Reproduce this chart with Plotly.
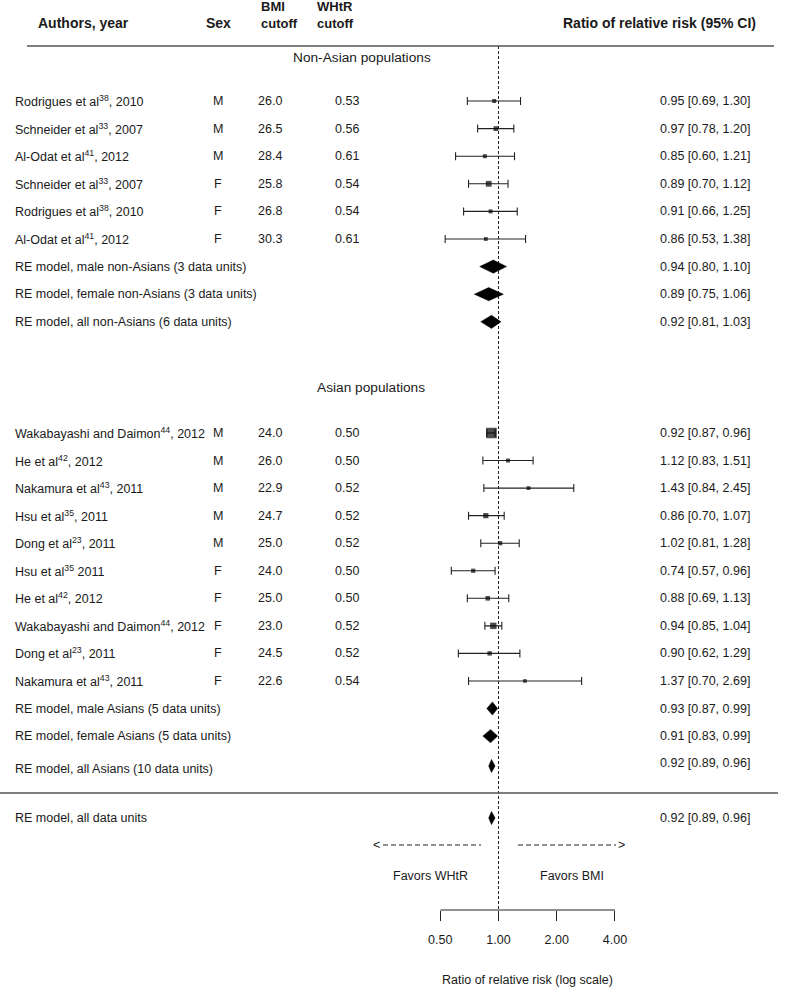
import math
import plotly.graph_objects as go

# ---------------- data ----------------
nonasian_labels = [
    "Rodrigues et al<sup>38</sup>, 2010",
    "Schneider et al<sup>33</sup>, 2007",
    "Al-Odat et al<sup>41</sup>, 2012",
    "Schneider et al<sup>33</sup>, 2007",
    "Rodrigues et al<sup>38</sup>, 2010",
    "Al-Odat et al<sup>41</sup>, 2012",
]
nonasian_sex = ["M", "M", "M", "F", "F", "F"]
nonasian_bmi = ["26.0", "26.5", "28.4", "25.8", "26.8", "30.3"]
nonasian_whtr = ["0.53", "0.56", "0.61", "0.54", "0.54", "0.61"]
nonasian_rr = [0.95, 0.97, 0.85, 0.89, 0.91, 0.86]
nonasian_lo = [0.69, 0.78, 0.60, 0.70, 0.66, 0.53]
nonasian_hi = [1.30, 1.20, 1.21, 1.12, 1.25, 1.38]
nonasian_weight = [4.0, 4.8, 4.0, 5.8, 4.0, 3.8]

asian_labels = [
    "Wakabayashi and Daimon<sup>44</sup>, 2012",
    "He et al<sup>42</sup>, 2012",
    "Nakamura et al<sup>43</sup>, 2011",
    "Hsu et al<sup>35</sup>, 2011",
    "Dong et al<sup>23</sup>, 2011",
    "Hsu et al<sup>35</sup> 2011",
    "He et al<sup>42</sup>, 2012",
    "Wakabayashi and Daimon<sup>44</sup>, 2012",
    "Dong et al<sup>23</sup>, 2011",
    "Nakamura et al<sup>43</sup>, 2011",
]
asian_sex = ["M", "M", "M", "M", "M", "F", "F", "F", "F", "F"]
asian_bmi = ["24.0", "26.0", "22.9", "24.7", "25.0", "24.0", "25.0", "23.0", "24.5", "22.6"]
asian_whtr = ["0.50", "0.50", "0.52", "0.52", "0.52", "0.50", "0.50", "0.52", "0.52", "0.54"]
asian_rr = [0.92, 1.12, 1.43, 0.86, 1.02, 0.74, 0.88, 0.94, 0.90, 1.37]
asian_lo = [0.87, 0.83, 0.84, 0.70, 0.81, 0.57, 0.69, 0.85, 0.62, 0.70]
asian_hi = [0.96, 1.51, 2.45, 1.07, 1.28, 0.96, 1.13, 1.04, 1.29, 2.69]
asian_weight = [10.5, 4.0, 3.8, 5.2, 4.2, 4.2, 4.6, 6.4, 4.4, 3.6]

nonasian_summary_labels = [
    "RE model, male non-Asians (3 data units)",
    "RE model, female non-Asians (3 data units)",
    "RE model, all non-Asians (6 data units)",
]
nonasian_summary_rr = [0.94, 0.89, 0.92]
nonasian_summary_lo = [0.80, 0.75, 0.81]
nonasian_summary_hi = [1.10, 1.06, 1.03]

asian_summary_labels = [
    "RE model, male Asians (5 data units)",
    "RE model, female Asians (5 data units)",
    "RE model, all Asians (10 data units)",
]
asian_summary_rr = [0.93, 0.91, 0.92]
asian_summary_lo = [0.87, 0.83, 0.89]
asian_summary_hi = [0.99, 0.99, 0.96]

overall_label = "RE model, all data units"
overall_rr = 0.92
overall_lo = 0.89
overall_hi = 0.96

tick_values = [0.5, 1, 2, 4]
tick_labels = ["0.50", "1.00", "2.00", "4.00"]

# ---------------- layout helpers ----------------
W, H = 789, 988
PLOT_H = 910          # plot area height in px (y data == px)
FONT = "Arial, Liberation Sans, sans-serif"
TXT = "#1a1a1a"
FS = 12.5
HFS = 14

px_per_decade = 193.4
x_one = 498.5
xr = [-x_one / px_per_decade, (W - x_one) / px_per_decade]


def paper_x(px):
    return px / W


# row positions
na_rows = [101 + 27.6 * i for i in range(9)]
as_rows = [433 + 27.55 * i for i in range(12)]
as_all_row = 766
overall_row = 818

na_study_y = na_rows[:6]
na_sum_y = na_rows[6:9]
as_study_y = as_rows[:10]
as_sum_y = as_rows[10:12] + [as_all_row]

fig = go.Figure()

# reference line at 1
fig.add_trace(go.Scatter(
    x=[1, 1], y=[46, PLOT_H], mode="lines",
    line=dict(color="#222", width=1, dash="3px,2px"),
    hoverinfo="skip", showlegend=False))

# studies
all_rr = nonasian_rr + asian_rr
all_lo = nonasian_lo + asian_lo
all_hi = nonasian_hi + asian_hi
all_w = nonasian_weight + asian_weight
all_y = na_study_y + as_study_y
fig.add_trace(go.Scatter(
    x=all_rr, y=all_y, mode="markers",
    marker=dict(symbol="square", color="black", size=all_w, line=dict(width=0)),
    error_x=dict(type="data", symmetric=False,
                 array=[h - r for h, r in zip(all_hi, all_rr)],
                 arrayminus=[r - l for r, l in zip(all_rr, all_lo)],
                 color="#222", thickness=1.1, width=4),
    hoverinfo="skip", showlegend=False))

# diamonds
sum_rr = nonasian_summary_rr + asian_summary_rr + [overall_rr]
sum_lo = nonasian_summary_lo + asian_summary_lo + [overall_lo]
sum_hi = nonasian_summary_hi + asian_summary_hi + [overall_hi]
sum_y = na_sum_y + as_sum_y + [overall_row]
half_h = 6.6
for r, lo, hi, y in zip(sum_rr, sum_lo, sum_hi, sum_y):
    fig.add_trace(go.Scatter(
        x=[lo, r, hi, r, lo], y=[y, y - half_h, y, y + half_h, y],
        mode="lines", fill="toself", fillcolor="black",
        line=dict(color="black", width=0.5),
        hoverinfo="skip", showlegend=False))

annotations = []


def add_text(px, y, text, anchor="left", bold=False, size=FS):
    if bold:
        text = "<b>" + text + "</b>"
    annotations.append(dict(
        x=paper_x(px), y=y, xref="paper", yref="y", text=text,
        showarrow=False, xanchor=anchor, yanchor="middle", align=anchor,
        font=dict(family=FONT, size=size, color=TXT)))


# headers
add_text(36, 23, "Authors, year", bold=True, size=HFS)
add_text(218, 23, "Sex", anchor="center", bold=True, size=HFS)
add_text(259, 15, "BMI<br>cutoff", bold=True, size=13)
add_text(315, 15, "WHtR<br>cutoff", bold=True, size=13)
add_text(758, 23, "Ratio of relative risk (95% CI)", anchor="right", bold=True, size=HFS)

add_text(362, 57, "Non-Asian populations", anchor="center", size=13.7)
add_text(371, 387, "Asian populations", anchor="center", size=13.7)


def fmt(r, lo, hi):
    return f"{r:.2f} [{lo:.2f}, {hi:.2f}]"


for lab, sx, b, wh, y, r, lo, hi in zip(
        nonasian_labels + asian_labels, nonasian_sex + asian_sex,
        nonasian_bmi + asian_bmi, nonasian_whtr + asian_whtr,
        all_y, all_rr, all_lo, all_hi):
    add_text(12.7, y, lab)
    add_text(218, y, sx, anchor="center")
    add_text(270, y, b, anchor="center")
    add_text(347, y, wh, anchor="center")
    add_text(752, y, fmt(r, lo, hi), anchor="right")

for lab, y, r, lo, hi in zip(
        nonasian_summary_labels + asian_summary_labels + [overall_label],
        sum_y, sum_rr, sum_lo, sum_hi):
    shift = 3 if lab == asian_summary_labels[2] else 0
    add_text(12.7, y + shift, lab)
    add_text(752, y - shift, fmt(r, lo, hi), anchor="right")

# favors arrows
add_text(371, 845, "&lt;", anchor="left")
add_text(627, 845, "&gt;", anchor="right")
add_text(430, 876, "Favors WHtR", anchor="center")
add_text(572, 876, "Favors BMI", anchor="center")

# axis title (centered under axis line)
annotations.append(dict(
    x=paper_x(527), y=-(980 - PLOT_H) / PLOT_H, xref="paper", yref="paper",
    text="Ratio of relative risk (log scale)", showarrow=False,
    xanchor="center", yanchor="middle",
    font=dict(family=FONT, size=FS, color=TXT)))

shapes = [
    dict(type="line", xref="paper", yref="y", x0=paper_x(27), x1=paper_x(774),
         y0=46, y1=46, line=dict(color="#555", width=1.5)),
    dict(type="line", xref="paper", yref="y", x0=0, x1=paper_x(778),
         y0=793, y1=793, line=dict(color="#555", width=1.5)),
    dict(type="line", xref="paper", yref="y", x0=paper_x(383), x1=paper_x(481),
         y0=845, y1=845, line=dict(color="#222", width=1, dash="5px,3px")),
    dict(type="line", xref="paper", yref="y", x0=paper_x(518), x1=paper_x(616),
         y0=845, y1=845, line=dict(color="#222", width=1, dash="5px,3px")),
    dict(type="line", xref="x", yref="paper", x0=min(tick_values), x1=max(tick_values),
         y0=0, y1=0, line=dict(color="#222", width=1)),
]

fig.update_layout(
    width=W, height=H,
    margin=dict(l=0, r=0, t=0, b=H - PLOT_H, pad=0),
    paper_bgcolor="white", plot_bgcolor="white",
    showlegend=False,
    xaxis=dict(type="log", range=xr, showgrid=False, zeroline=False, showline=False,
               tickvals=tick_values, ticktext=tick_labels, ticks="outside",
               ticklen=10, tickwidth=1, tickcolor="#222",
               ticklabelstandoff=8,
               tickfont=dict(family=FONT, size=FS, color=TXT), fixedrange=True),
    yaxis=dict(range=[PLOT_H, 0], showgrid=False, zeroline=False, showline=False,
               showticklabels=False, ticks="", fixedrange=True),
    annotations=annotations,
    shapes=shapes,
)

fig.write_html("out.html", config={"displayModeBar": False},
               post_script="document.body.style.margin='0px';")
